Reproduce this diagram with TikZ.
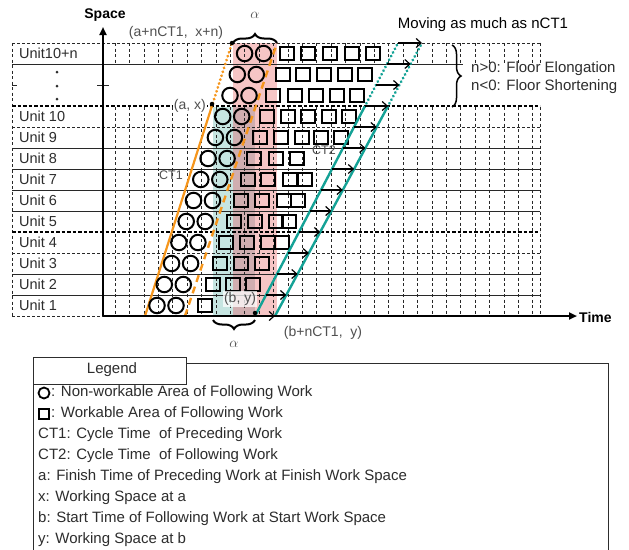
\documentclass[tikz,border=0pt]{standalone}
\usepackage{fontspec}
\setmainfont{Liberation Sans}
\usetikzlibrary{arrows.meta,decorations.pathreplacing}
\definecolor{tealfill}{RGB}{198,229,225}
\definecolor{pinkfill}{RGB}{246,197,197}
\definecolor{mauvefill}{RGB}{208,174,176}
\definecolor{tealline}{RGB}{20,162,150}
\definecolor{orangeline}{RGB}{246,150,28}
\definecolor{gridline}{RGB}{40,40,40}
\definecolor{labelgray}{RGB}{80,80,80}
\definecolor{textdark}{RGB}{45,45,45}
\tikzset{
  gridv/.style={gridline, line width=0.6pt, dash pattern=on 3pt off 2.5pt},
  gridh/.style={gridline, line width=0.6pt},
  gridhd/.style={gridline, line width=0.7pt, dash pattern=on 3pt off 2pt},
  gridhb/.style={black, line width=1.1pt, dash pattern=on 3.5pt off 2pt},
  axisline/.style={black, line width=2pt, -{Triangle[length=8pt,width=7pt]}},
  circ/.style={draw=black, line width=2pt, circle, minimum size=15.5pt, inner sep=0pt},
  sq/.style={draw=black, line width=2pt, minimum size=13.5pt, inner sep=0pt},
  movearrow/.style={black, line width=1.2pt, -{Straight Barb[length=5pt,width=9pt]}},
  dotpt/.style={circle, fill=black, inner sep=0pt, minimum size=4.5pt},
  lbl/.style={inner sep=0pt, font=\fontsize{14}{16}\selectfont, text=labelgray},
  bglbl/.style={lbl, fill=white, fill opacity=0.75, text opacity=1, inner sep=1pt},
  unitlbl/.style={inner sep=0pt, anchor=west, font=\fontsize{14.5}{16}\selectfont, text=textdark},
  legtxt/.style={inner sep=0pt, anchor=west, font=\fontsize{15}{17}\selectfont, text=textdark},
  tealsolid/.style={tealline, line width=2.4pt},
  tealdot/.style={tealline, line width=3pt, dash pattern=on 0.1pt off 4pt, line cap=round},
  orsolid/.style={orangeline, line width=2.2pt},
  ordot/.style={orangeline, line width=3pt, dash pattern=on 0.1pt off 4pt, line cap=round},
  ordash/.style={orangeline, line width=2.4pt, dash pattern=on 7pt off 5pt},
  bracedeco/.style={decorate, decoration={brace, amplitude=9pt}, black, line width=2pt},
}
\begin{document}
\begin{tikzpicture}[x=1pt,y=-1pt]
\useasboundingbox (0,0) rectangle (629,549);
\fill[white] (0,0) rectangle (629,549);

% shaded bands
\fill[tealfill] (213,107) rectangle (233,316);
\fill[mauvefill] (233,107) rectangle (255,316);
\fill[pinkfill] (233,43) rectangle (255,107);
\fill[pinkfill] (255,43) rectangle (277,316);

% vertical grid
\foreach \k in {0,...,29}{
  \pgfmathsetmacro{\gx}{115+14.4*\k}
  \draw[gridv] (\gx,43) -- (\gx,64);
  \draw[gridv] (\gx,107) -- (\gx,316);
}
\draw[gridv] (12,43) -- (12,316);
\draw[gridv] (540,43) -- (540,64);
\draw[gridv] (540,107) -- (540,316);

% horizontal grid
\draw[gridhd] (12,43) -- (540,43);
\draw[gridh] (12,64) -- (463,64);
\draw[gridh] (12,85) -- (17,85);
\draw[gridh] (97,85) -- (109,85);
\draw[gridhb] (12,106) -- (540,106);
\draw[gridhd] (12,127) -- (540,127);
\foreach \y in {148,169,190,211,274,295} \draw[gridh] (12,\y) -- (540,\y);
\draw[gridhb] (12,232) -- (540,232);
\draw[gridhd] (12,253) -- (540,253);
\draw[gridhd] (12,316) -- (103,316);

% unit labels
\node[unitlbl] (u13) at (19,53.5) {Unit10+n};
\foreach \i in {1,...,10}{
  \pgfmathsetmacro{\uy}{316-21*(\i-0.5)}
  \node[unitlbl] (u\i) at (19,\uy) {Unit \i};
}
\node[circle, fill=textdark, inner sep=0pt, minimum size=3pt] (d1) at (57,72) {};
\node[circle, fill=textdark, inner sep=0pt, minimum size=3pt] (d2) at (57,86) {};
\node[circle, fill=textdark, inner sep=0pt, minimum size=3pt] (d3) at (57,99) {};

% orange CT1 lines
\coordinate (o0) at (145,316);
\coordinate (ax) at (211.6,107);
\coordinate (ant) at (232,43);
\coordinate (od0) at (185,316);
\coordinate (odt) at (277,43);
\draw[orsolid] (o0) -- (ax);
\draw[ordot] (ax) -- (ant);
\draw[ordash] (od0) -- (odt);

% circles
\foreach \i in {1,...,13}{
  \pgfmathsetmacro{\cy}{316-21*(\i-0.5)}
  \pgfmathsetmacro{\cx}{157+7.3*(\i-1)}
  \pgfmathsetmacro{\cxb}{\cx+19}
  \node[circ] (ca\i) at (\cx,\cy) {};
  \node[circ] (cb\i) at (\cxb,\cy) {};
}

% squares
\foreach \i/\xs in {1/{205},2/{213,233,253},3/{220,241,262},4/{226,247,268,282},
  5/{234,255,276,289},6/{241,262,284,298},7/{248,268,290,305},8/{254,276,297},
  9/{260,281,302,321,341},10/{267,288,308,329,349},11/{273,295,316,337,357},
  12/{283,303,324,345,365},13/{287,308,330,352,373}}{
  \pgfmathsetmacro{\sy}{316-21*(\i-0.5)}
  \foreach \x [count=\j] in \xs { \node[sq] (s\i-\j) at (\x,\sy) {}; }
}

% teal CT2 lines
\coordinate (tL0) at (255,316);
\coordinate (tLm) at (364.5,107);
\coordinate (tLt) at (398,43);
\coordinate (tR0) at (275,316);
\coordinate (tRm) at (387.5,107);
\coordinate (tRt) at (422,43);
\draw[tealsolid] (tL0) -- (tLm);
\draw[tealdot] (tLm) -- (tLt);
\draw[tealsolid] (tR0) -- (tRm);
\draw[tealdot] (tRm) -- (tRt);

% axes
\coordinate (origin) at (103,316);
\coordinate (ytop) at (103,27);
\coordinate (xend) at (577,316);
\draw[axisline] (origin) -- (ytop);
\draw[axisline] (origin) -- (xend);
\node[inner sep=0pt, font=\bfseries\fontsize{14}{16}\selectfont] (spacelbl) at (105,15) {Space};
\node[inner sep=0pt, anchor=west, font=\bfseries\fontsize{14}{16}\selectfont] (timelbl) at (579,317) {Time};

% moving arrows
\foreach \k in {0,...,13}{
  \pgfmathsetmacro{\ay}{316-21*\k}
  \pgfmathsetmacro{\xl}{255+11.0*\k}
  \pgfmathsetmacro{\xr}{275+11.308*\k}
  \coordinate (mL\k) at (\xl,\ay);
  \coordinate (mR\k) at (\xr,\ay);
  \draw[movearrow] (mL\k) -- (mR\k);
}

% points and labels
\node[lbl, fill=white, inner sep=1pt, anchor=east] (laxl) at (207,106) {(a, x)};
\node[bglbl] (lby) at (240,299) {(b, y)};
\node[dotpt] (pax) at (212,104) {};
\node[dotpt] (pant) at (232,43) {};
\node[dotpt] (pby) at (255,313) {};
\node[lbl] (lant) at (176,33) {(a+nCT1,~ x+n)};
\node[lbl] (lbn) at (323,333) {(b+nCT1,~ y)};
\node[inner sep=0pt, font=\fontsize{12.5}{14}\selectfont, text=labelgray] (lct1) at (171,175) {CT1};
\node[inner sep=0pt, font=\fontsize{12.5}{14}\selectfont, text=labelgray] (lct2) at (324,150) {CT2};

% braces
\coordinate (btl) at (233,43);
\coordinate (btr) at (277,43);
\draw[bracedeco] (btl) -- (btr);
\node[inner sep=0pt, font=\fontsize{14}{16}\selectfont, text=labelgray] (alphatop) at (255,15) {$\alpha$};
\coordinate (bbr) at (255,320);
\coordinate (bbl) at (213,320);
\draw[bracedeco] (bbr) -- (bbl);
\node[inner sep=0pt, font=\fontsize{14}{16}\selectfont, text=labelgray] (alphabot) at (234,344) {$\alpha$};
\coordinate (brt) at (452,45);
\coordinate (brb) at (452,107);
\draw[decorate, decoration={brace, amplitude=9pt}, black, line width=1.5pt] (brt) -- (brb);
\node[inner sep=0pt, anchor=west, font=\fontsize{15}{17}\selectfont, text=textdark] (elong) at (471,69) {n>0: Floor Elongation};
\node[inner sep=0pt, anchor=west, font=\fontsize{15}{17}\selectfont, text=textdark] (short) at (471,87) {n<0: Floor Shortening};
\node[inner sep=0pt, font=\fontsize{15}{17}\selectfont, text=black] (moving) at (483,25) {Moving as much as nCT1};

% legend
\draw[textdark, line width=1pt] (33,363) rectangle (608,560);
\node[draw=textdark, line width=1pt, fill=white, minimum width=153pt, minimum height=27pt, anchor=north west, inner sep=0pt] (legtab) at (33,357) {};
\node[inner sep=0pt, font=\fontsize{15}{17}\selectfont, text=textdark] (legtitle) at (112,370) {Legend};
\node[circle, draw=black, line width=1.8pt, minimum size=11pt, inner sep=0pt] (lgc) at (44,393) {};
\node[legtxt] (lg1) at (51,393) {: Non-workable Area of Following Work};
\node[draw=black, line width=1.8pt, minimum size=10.5pt, inner sep=0pt] (lgs) at (44,414) {};
\node[legtxt] (lg2) at (51,414) {: Workable Area of Following Work};
\node[legtxt] (lg3) at (38,435) {CT1: Cycle Time~ of Preceding Work};
\node[legtxt] (lg4) at (38,456) {CT2: Cycle Time~ of Following Work};
\node[legtxt] (lg5) at (38,477) {a: Finish Time of Preceding Work at Finish Work Space};
\node[legtxt] (lg6) at (38,498) {x: Working Space at a};
\node[legtxt] (lg7) at (38,519) {b: Start Time of Following Work at Start Work Space};
\node[legtxt] (lg8) at (38,540) {y: Working Space at b};
\end{tikzpicture}
\end{document}
